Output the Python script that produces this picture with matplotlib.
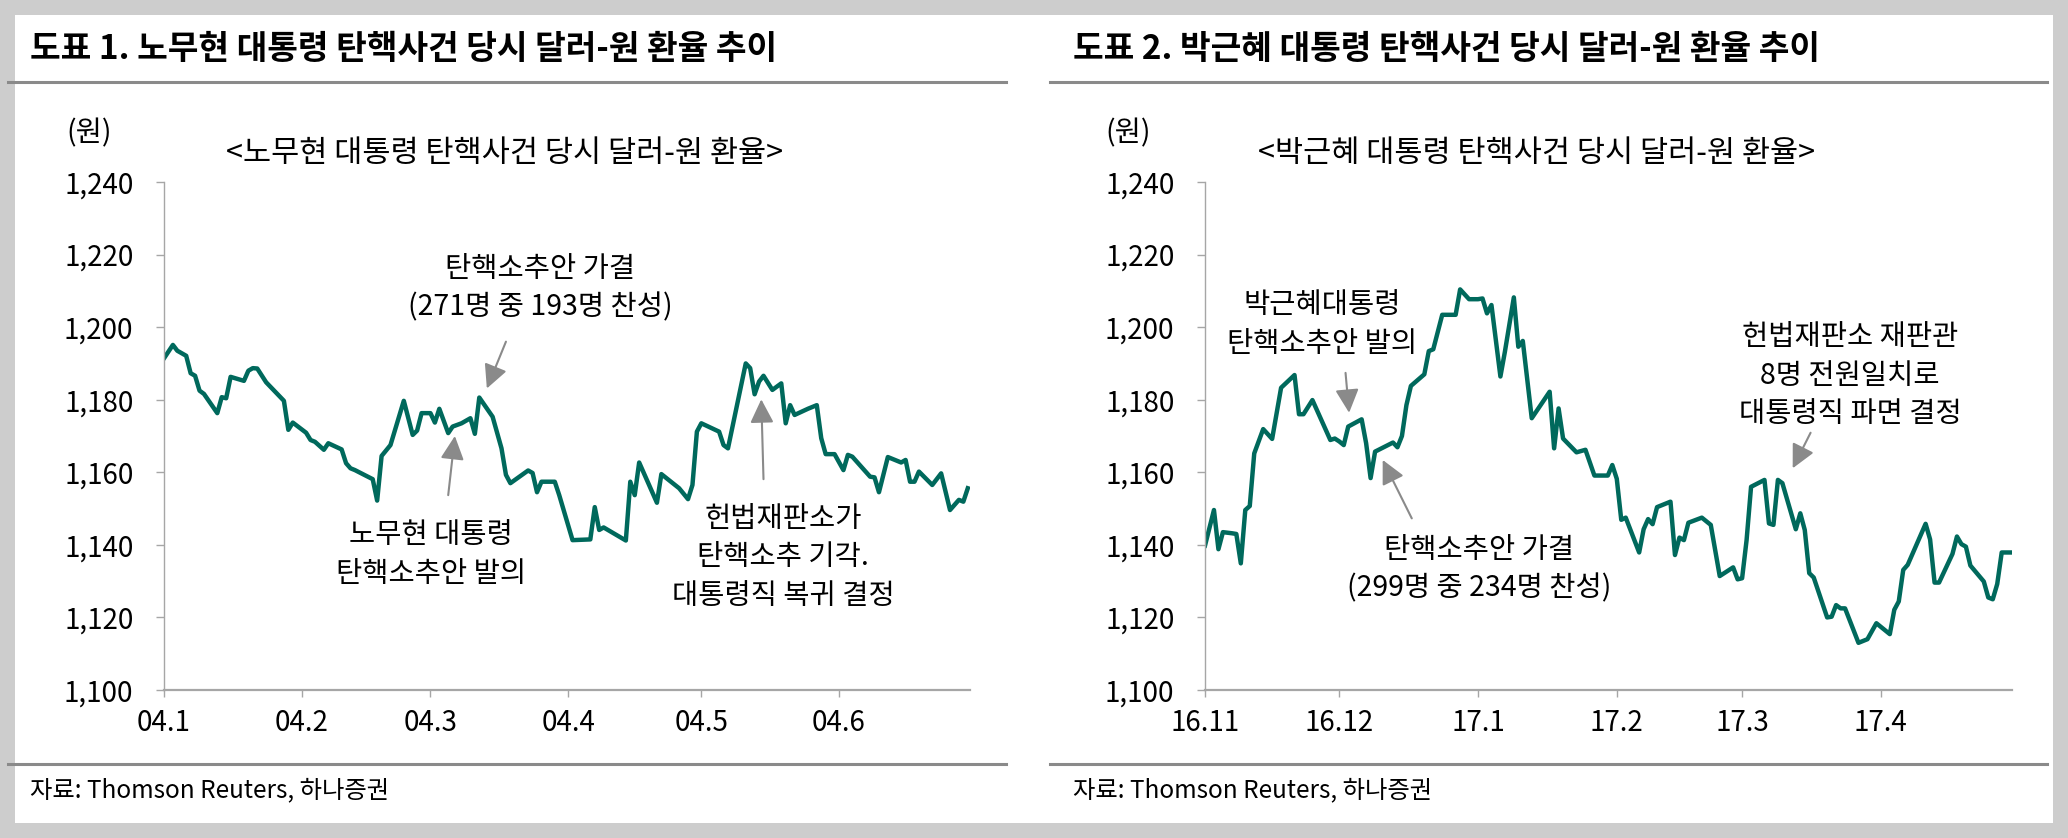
import matplotlib
matplotlib.use('Agg')
import matplotlib.pyplot as plt
import matplotlib.dates as mdates
from matplotlib.lines import Line2D
from matplotlib.patches import Rectangle
from matplotlib.ticker import FuncFormatter
import pandas as pd

plt.rcParams['font.family'] = ['Noto Sans CJK KR', 'DejaVu Sans']

# 2004 노무현 탄핵 (달러-원)
roh_dates = ['01-01', '01-03', '01-04', '01-06', '01-07', '01-08', '01-09', '01-10',
             '01-13', '01-14', '01-15', '01-16', '01-19', '01-20', '01-21', '01-22',
             '01-24', '01-28', '01-29', '01-30', '02-02', '02-03', '02-04', '02-06',
             '02-07', '02-10', '02-11', '02-12', '02-13', '02-17', '02-18', '02-19',
             '02-21', '02-24', '02-26', '02-27', '02-28', '03-01', '03-02', '03-03',
             '03-05', '03-06', '03-08', '03-10', '03-11', '03-12', '03-15', '03-17',
             '03-18', '03-19', '03-23', '03-24', '03-25', '03-26', '03-29', '03-30',
             '04-02', '04-06', '04-07', '04-08', '04-09', '04-14', '04-15', '04-16',
             '04-17', '04-21', '04-22', '04-26', '04-28', '04-29', '04-30', '05-01',
             '05-05', '05-06', '05-07', '05-11', '05-12', '05-13', '05-14', '05-15',
             '05-17', '05-19', '05-20', '05-21', '05-22', '05-25', '05-27', '05-28',
             '05-29', '05-31', '06-02', '06-03', '06-04', '06-08', '06-09', '06-10',
             '06-12', '06-15', '06-16', '06-17', '06-18', '06-19', '06-22', '06-24',
             '06-26', '06-28', '06-29', '06-30']
roh_rate = [1191.4, 1195.1, 1193.5, 1192.1, 1187.3, 1186.6, 1182.5, 1181.6,
            1176.3, 1180.7, 1180.4, 1186.3, 1185.2, 1188.0, 1188.7, 1188.6,
            1184.8, 1179.7, 1171.7, 1173.7, 1170.9, 1168.9, 1168.4, 1166.2,
            1168.0, 1166.3, 1162.5, 1161.1, 1160.6, 1158.1, 1152.2, 1164.5,
            1167.5, 1179.7, 1170.3, 1171.5, 1176.3, 1176.3, 1173.7, 1177.5,
            1170.8, 1172.6, 1173.5, 1174.9, 1170.6, 1180.6, 1175.3, 1166.6,
            1159.3, 1157.0, 1160.5, 1159.8, 1154.5, 1157.4, 1157.4, 1153.7,
            1141.3, 1141.5, 1150.4, 1144.1, 1144.8, 1141.2, 1157.4, 1153.7,
            1162.7, 1151.6, 1159.5, 1155.6, 1152.6, 1156.5, 1171.2, 1173.5,
            1171.2, 1167.5, 1166.6, 1190.0, 1188.7, 1181.5, 1185.0, 1186.6,
            1182.7, 1184.5, 1173.5, 1178.5, 1175.8, 1177.5, 1178.5, 1169.4,
            1165.0, 1165.0, 1160.6, 1164.8, 1164.3, 1158.8, 1158.6, 1154.5,
            1164.2, 1162.7, 1163.4, 1157.4, 1157.4, 1160.2, 1156.5, 1159.7,
            1149.6, 1152.4, 1151.9, 1155.6]

# 2016-17 박근혜 탄핵 (달러-원)
park_dates = ['2016-11-01', '2016-11-03', '2016-11-04', '2016-11-05', '2016-11-07',
              '2016-11-08', '2016-11-09', '2016-11-10', '2016-11-11', '2016-11-12',
              '2016-11-14', '2016-11-16', '2016-11-18', '2016-11-21', '2016-11-22',
              '2016-11-23', '2016-11-25', '2016-11-29', '2016-11-30', '2016-12-01',
              '2016-12-02', '2016-12-03', '2016-12-06', '2016-12-07', '2016-12-08',
              '2016-12-09', '2016-12-13', '2016-12-14', '2016-12-15', '2016-12-16',
              '2016-12-17', '2016-12-20', '2016-12-21', '2016-12-22', '2016-12-24',
              '2016-12-27', '2016-12-28', '2016-12-30', '2017-01-01', '2017-01-02',
              '2017-01-03', '2017-01-04', '2017-01-06', '2017-01-07', '2017-01-09',
              '2017-01-10', '2017-01-11', '2017-01-13', '2017-01-17', '2017-01-18',
              '2017-01-19', '2017-01-20', '2017-01-23', '2017-01-25', '2017-01-27',
              '2017-01-30', '2017-01-31', '2017-02-01', '2017-02-02', '2017-02-03',
              '2017-02-06', '2017-02-07', '2017-02-08', '2017-02-09', '2017-02-10',
              '2017-02-13', '2017-02-14', '2017-02-15', '2017-02-16', '2017-02-17',
              '2017-02-20', '2017-02-22', '2017-02-24', '2017-02-27', '2017-02-28',
              '2017-03-01', '2017-03-02', '2017-03-03', '2017-03-06', '2017-03-07',
              '2017-03-08', '2017-03-09', '2017-03-10', '2017-03-13', '2017-03-14',
              '2017-03-15', '2017-03-16', '2017-03-17', '2017-03-20', '2017-03-21',
              '2017-03-22', '2017-03-23', '2017-03-24', '2017-03-27', '2017-03-29',
              '2017-03-31', '2017-04-03', '2017-04-04', '2017-04-05', '2017-04-06',
              '2017-04-07', '2017-04-11', '2017-04-12', '2017-04-13', '2017-04-14',
              '2017-04-17', '2017-04-18', '2017-04-19', '2017-04-20', '2017-04-21',
              '2017-04-24', '2017-04-25', '2017-04-26', '2017-04-27', '2017-04-28',
              '2017-04-30']
park_rate = [1139.8, 1149.6, 1138.8, 1143.5, 1143.2,
             1143.0, 1134.9, 1149.6, 1150.7, 1165.2,
             1171.9, 1169.2, 1183.3, 1186.8, 1176.0,
             1176.0, 1179.9, 1168.9, 1169.3, 1168.5,
             1167.5, 1172.6, 1174.6, 1168.0, 1158.4,
             1165.7, 1168.2, 1166.9, 1170.0, 1178.5,
             1183.8, 1187.0, 1193.4, 1193.9, 1203.4,
             1203.4, 1210.4, 1207.7, 1207.7, 1207.9,
             1203.8, 1206.1, 1186.4, 1193.2, 1208.2,
             1194.6, 1196.2, 1174.9, 1182.2, 1166.6,
             1177.6, 1169.3, 1165.5, 1166.2, 1159.1,
             1159.1, 1162.0, 1158.2, 1146.9, 1147.5,
             1137.9, 1144.3, 1147.1, 1145.7, 1150.4,
             1151.9, 1137.2, 1142.0, 1141.3, 1146.1,
             1147.5, 1145.5, 1131.4, 1133.8, 1130.5,
             1130.8, 1141.3, 1156.0, 1157.9, 1145.9,
             1145.5, 1157.9, 1157.0, 1144.3, 1148.7,
             1144.1, 1132.2, 1131.0, 1120.0, 1120.2,
             1123.4, 1122.5, 1122.5, 1113.0, 1114.0,
             1118.4, 1115.4, 1122.1, 1124.4, 1133.1,
             1134.5, 1145.8, 1141.5, 1129.6, 1129.6,
             1137.5, 1142.3, 1140.2, 1139.5, 1134.3,
             1129.9, 1125.5, 1125.0, 1129.2, 1137.9,
             1137.9]

roh_months = ['2004-01-01', '2004-02-01', '2004-03-01', '2004-04-01', '2004-05-01', '2004-06-01']
roh_month_labels = ['04.1', '04.2', '04.3', '04.4', '04.5', '04.6']
park_months = ['2016-11-01', '2016-12-01', '2017-01-01', '2017-02-01', '2017-03-01', '2017-04-01']
park_month_labels = ['16.11', '16.12', '17.1', '17.2', '17.3', '17.4']

W, H = 2068, 838
LINE = '#00695c'
GREY = '#8a8a8a'
AXC = '#a6a6a6'
STEP = 27.7  # line gap of the notes, points


def fx(px):
    return px / W


def fy(py):
    return 1 - py / H


def day(start, n):
    return mdates.date2num(pd.Timestamp(start)) + n


fig = plt.figure(figsize=(W / 100, H / 100), dpi=100, facecolor='#cdcdcd')
fig.patches.append(Rectangle((fx(15), fy(823)), fx(2053 - 15), (823 - 15) / H,
                             transform=fig.transFigure, facecolor='white',
                             edgecolor='none', zorder=-5))


def setup(ax, start, end_days, months, labels):
    ax.set_facecolor('none')
    ax.set_ylim(1100, 1240)
    ax.set_yticks(range(1100, 1241, 20))
    ax.yaxis.set_major_formatter(FuncFormatter(lambda v, p: f'{int(v):,}'))
    ax.set_xlim(day(start, 0), day(start, end_days))
    ax.set_xticks([mdates.date2num(pd.Timestamp(m)) for m in months])
    ax.set_xticklabels(labels)
    for s in ['top', 'right']:
        ax.spines[s].set_visible(False)
    ax.spines['left'].set_color(AXC)
    ax.spines['left'].set_linewidth(1.0)
    ax.spines['bottom'].set_color(AXC)
    ax.spines['bottom'].set_linewidth(1.6)
    ax.tick_params(axis='y', length=6, width=1, color=AXC, pad=16, labelsize=20)
    ax.tick_params(axis='x', length=5, width=1, color=AXC, pad=8, labelsize=20)


def note(ax, start, lines, tx, ty, tail, tip):
    n = len(lines)
    for i, s in enumerate(lines):
        ax.annotate(s, xy=(day(start, tx), ty), xytext=(0, ((n - 1) / 2 - i) * STEP),
                    textcoords='offset points', ha='center', va='center_baseline',
                    fontsize=20.5, color='black')
    ax.annotate('', xy=(day(start, tip[0]), tip[1]), xytext=(day(start, tail[0]), tail[1]),
                arrowprops=dict(arrowstyle='-|>', color=GREY, lw=1.5, mutation_scale=36,
                                shrinkA=0, shrinkB=0))


ax1 = fig.add_axes([fx(164), fy(690), fx(806), 508 / H])
setup(ax1, '2004-01-01', 181.5, roh_months, roh_month_labels)
ax1.plot(pd.to_datetime(['2004-' + d for d in roh_dates]), roh_rate, color=LINE, lw=3.2)
note(ax1, '2004-01-01', ['탄핵소추안 가결', '(271명 중 193명 찬성)'], 84.7, 1211.6,
     (77.0, 1196.0), (72.7, 1183.1))
note(ax1, '2004-01-01', ['노무현 대통령', '탄핵소추안 발의'], 60.1, 1138.3,
     (64.0, 1153.7), (65.5, 1170.0))
note(ax1, '2004-01-01', ['헌법재판소가', '탄핵소추 기각.', '대통령직 복귀 결정'], 139.4, 1137.5,
     (135.0, 1158.1), (134.5, 1180.1))

ax2 = fig.add_axes([fx(1205), fy(690), fx(807), 508 / H])
setup(ax2, '2016-11-01', 180.3, park_months, park_month_labels)
ax2.plot(pd.to_datetime(park_dates), park_rate, color=LINE, lw=3.2)
note(ax2, '2016-11-01', ['박근혜대통령', '탄핵소추안 발의'], 26.1, 1201.7,
     (31.4, 1187.4), (32.2, 1176.4))
note(ax2, '2016-11-01', ['탄핵소추안 가결', '(299명 중 234명 찬성)'], 61.2, 1134.2,
     (46.2, 1147.3), (39.7, 1163.4))
note(ax2, '2016-11-01', ['헌법재판소 재판관', '8명 전원일치로', '대통령직 파면 결정'], 144.1, 1187.6,
     (135.3, 1170.9), (131.3, 1161.1))

# headers, rules, units, sources
panels = [
    (30, 8, 1006, '도표 1. 노무현 대통령 탄핵사건 당시 달러-원 환율 추이', 89,
     505, '<노무현 대통령 탄핵사건 당시 달러-원 환율>'),
    (1073, 1050, 2047, '도표 2. 박근혜 대통령 탄핵사건 당시 달러-원 환율 추이', 1128,
     1537, '<박근혜 대통령 탄핵사건 당시 달러-원 환율>'),
]
for tx, x0, x1, title, ux, sx, sub in panels:
    fig.text(fx(tx), fy(49), title, fontsize=24, fontweight='bold', ha='left', va='center')
    for ry in (82, 764):
        fig.add_artist(Line2D([fx(x0), fx(x1)], [fy(ry), fy(ry)], color=GREY, lw=2.2))
    fig.text(fx(ux), fy(133), '(원)', fontsize=20.5, ha='center', va='center')
    fig.text(fx(sx), fy(153), sub, fontsize=22, ha='center', va='center')
    fig.text(fx(tx), fy(790), '자료: Thomson Reuters, 하나증권', fontsize=17.5,
             ha='left', va='center')

fig.savefig('out.png', dpi=100, facecolor=fig.get_facecolor())
